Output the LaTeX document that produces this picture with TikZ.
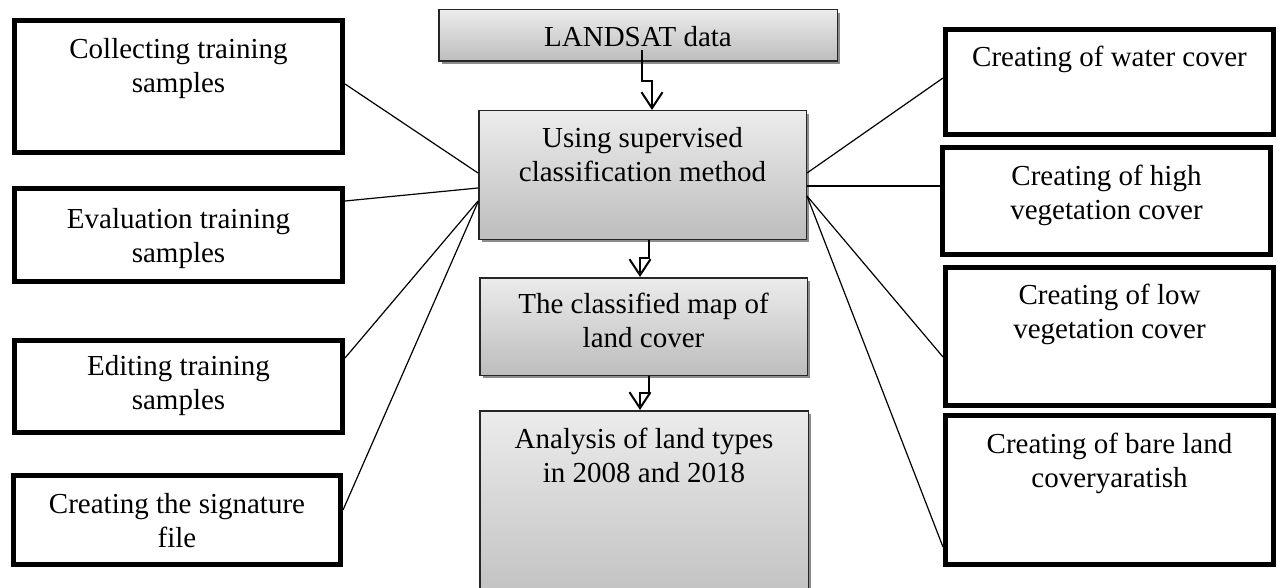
\documentclass[tikz,border=0pt]{standalone}
\usepackage{fontspec}
\setmainfont{Liberation Serif}
\usetikzlibrary{arrows.meta,calc,shadows}
\tikzset{
  thickbox/.style={draw=black, line width=5pt, fill=white, rectangle, inner sep=0pt},
  graybox/.style={draw=black!85, line width=1.5pt, rectangle, inner sep=0pt,
    top color=gray!15, bottom color=gray!52,
    drop shadow={shadow xshift=3pt, shadow yshift=-3pt, opacity=1, fill=black!45}},
  txt/.style={anchor=base, align=center, inner sep=0pt, font=\fontsize{29}{34}\selectfont},
  conn/.style={draw=black, line width=1.2pt},
  arr/.style={draw=black, line width=2pt, -{Straight Barb[length=16pt,width=21pt,line width=2pt]}}
}
\begin{document}
\begin{tikzpicture}[x=1pt,y=-1pt]
\useasboundingbox (0,0) rectangle (1282,588);
\clip (0,0) rectangle (1282,588);
% left boxes
\node[thickbox, minimum width=328pt, minimum height=132pt] (A) at (178.5,86.5) {};
\node[thickbox, minimum width=328pt, minimum height=93pt] (B) at (178.5,235) {};
\node[thickbox, minimum width=328pt, minimum height=92pt] (C) at (178.5,386.5) {};
\node[thickbox, minimum width=327pt, minimum height=89pt] (D) at (177,520) {};
% right boxes
\node[thickbox, minimum width=328pt, minimum height=105pt] (E) at (1109.5,82) {};
\node[thickbox, minimum width=328pt, minimum height=107pt] (F) at (1106.5,201) {};
\node[thickbox, minimum width=328pt, minimum height=138pt] (G) at (1109.5,336.5) {};
\node[thickbox, minimum width=328pt, minimum height=149pt] (H) at (1109.5,490) {};
% centre boxes
\node[graybox, minimum width=398.5pt, minimum height=51.5pt] (L) at (638,35.5) {};
\node[graybox, minimum width=327.5pt, minimum height=128.5pt] (U) at (642.5,175) {};
\node[graybox, minimum width=327.5pt, minimum height=97.5pt] (M) at (643.5,326.5) {};
\node[graybox, minimum width=328.5pt, minimum height=208.5pt] (N) at (644,515) {};
% texts (base anchor = baseline of the last line)
\node[txt] (tA) at (178.5,93) {Collecting training\\samples};
\node[txt] (tB) at (178.5,262) {Evaluation training\\samples};
\node[txt] (tC) at (178.5,409) {Editing training\\samples};
\node[txt] (tD) at (177,547) {Creating the signature\\file};
\node[txt] (tE) at (1109.5,67) {Creating of water cover};
\node[txt] (tF) at (1106.5,220) {Creating of high\\vegetation cover};
\node[txt] (tG) at (1109.5,338) {Creating of low\\vegetation cover};
\node[txt] (tH) at (1109.5,487) {Creating of bare land\\coveryaratish};
\node[txt] (tL) at (638,47) {LANDSAT data};
\node[txt] (tU) at (642.5,182) {Using supervised\\classification method};
\node[txt] (tM) at (643.5,347) {The classified map of\\land cover};
\node[txt] (tN) at (644,482) {Analysis of land types\\in 2008 and 2018};
% connectors left
\draw[conn] ([yshift=2.5pt]A.east) -- ([yshift=2pt]U.west);
\draw[conn] ([yshift=34pt]B.east) -- ([yshift=-13pt]U.west);
\draw[conn] ([yshift=28.5pt]C.east) -- ([yshift=-26pt]U.west);
\draw[conn] ([yshift=10pt]D.east) -- ([yshift=-27pt]U.west);
% connectors right
\draw[conn] ([yshift=2pt]U.east) -- ([yshift=4pt]E.west);
\draw[conn] ([yshift=-11pt]U.east) -- ([yshift=15pt]F.west);
\draw[conn] ([yshift=-21pt]U.east) -- ([yshift=-20.5pt]G.west);
\draw[conn] ([yshift=-21pt]U.east) -- ([yshift=-57pt]H.west);
% arrows
\draw[arr] ($(L.south)+(4,-12)$) -- ++(0,31) -| ([xshift=9.5pt]U.north);
\draw[arr] ([xshift=6.5pt]U.south) -- ++(0,18) -| ([xshift=-3.5pt]M.north);
\draw[arr] ([xshift=5.5pt]M.south) -- ++(0,17) -| ([xshift=-4pt]N.north);
\end{tikzpicture}
\end{document}
